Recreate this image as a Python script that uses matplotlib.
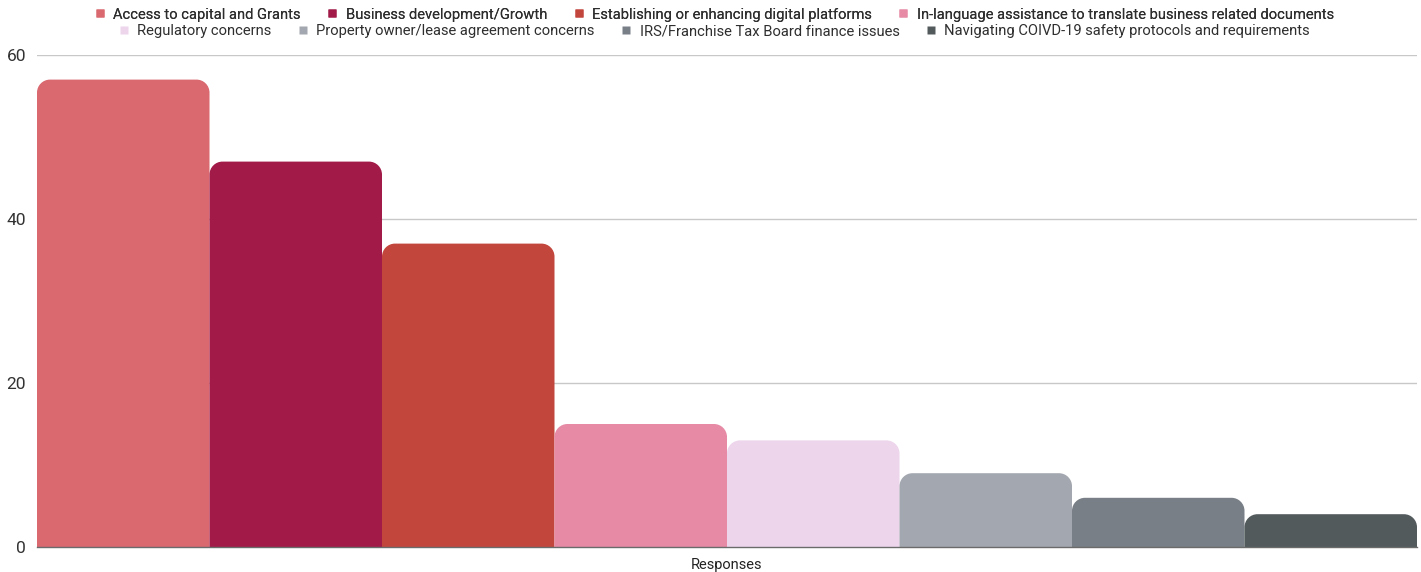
import matplotlib
matplotlib.use("Agg")
import matplotlib.pyplot as plt
from matplotlib.path import Path
from matplotlib.patches import PathPatch
from matplotlib.lines import Line2D

categories = [
    "Access to capital and Grants",
    "Business development/Growth",
    "Establishing or enhancing digital platforms",
    "In-language assistance to translate business related documents",
    "Regulatory concerns",
    "Property owner/lease agreement concerns",
    "IRS/Franchise Tax Board finance issues",
    "Navigating COIVD-19 safety protocols and requirements",
]
values = [57, 47, 37, 15, 13, 9, 6, 4]
colors = ["#d9686f", "#a21a47", "#c3463c", "#e68aa5",
          "#edd5ec", "#a3a7af", "#797f86", "#525a5c"]
yticks = [0, 20, 40, 60]
xlabel = "Responses"

W, H = 1421, 572
fig = plt.figure(figsize=(W / 100, H / 100), dpi=100)
ax = fig.add_axes([37 / W, 25 / H, 1380 / W, 492 / H])
n = len(values)
ax.set_xlim(0, n)
ax.set_ylim(0, 60)

px_x = 1380 / n
px_y = 492 / 60
r_px = 13
rx = r_px / px_x
ry = r_px / px_y
k = 0.5523


def rounded_bar(x0, w, h):
    x1 = x0 + w
    r_y = min(ry, h)
    verts = [
        (x0, 0), (x0, h - r_y),
        (x0, h - r_y + k * r_y), (x0 + rx - k * rx, h), (x0 + rx, h),
        (x1 - rx, h),
        (x1 - rx + k * rx, h), (x1, h - r_y + k * r_y), (x1, h - r_y),
        (x1, 0), (x0, 0),
    ]
    codes = [Path.MOVETO, Path.LINETO,
             Path.CURVE4, Path.CURVE4, Path.CURVE4,
             Path.LINETO,
             Path.CURVE4, Path.CURVE4, Path.CURVE4,
             Path.LINETO, Path.CLOSEPOLY]
    return Path(verts, codes)


for i, (v, c) in enumerate(zip(values, colors)):
    ax.add_patch(PathPatch(rounded_bar(i, 1, v), facecolor=c, edgecolor="none", zorder=2))

for s in ["top", "right", "left"]:
    ax.spines[s].set_visible(False)
ax.spines["bottom"].set_color("#6b6b6b")
ax.spines["bottom"].set_linewidth(1)
ax.spines["bottom"].set_zorder(3)
ax.set_yticks(yticks)
ax.set_yticklabels([str(t) for t in yticks], fontsize=12.5, color="#333333", family="Roboto")
ax.tick_params(axis="y", length=0, pad=8)
ax.grid(axis="y", color="#c8c8c8", linewidth=1, zorder=0)
ax.set_axisbelow(True)
ax.set_xticks([n / 2])
ax.set_xticklabels([xlabel], fontsize=10.5, color="#222222", family="Roboto")
ax.tick_params(axis="x", length=0, pad=8)


def make_legend(idx, y):
    handles = [Line2D([], [], marker="s", linestyle="none", markersize=6,
                      markerfacecolor=colors[i], markeredgecolor="none") for i in idx]
    leg = fig.legend(handles, [categories[i] for i in idx], loc="center",
                     bbox_to_anchor=(714 / W, 1 - y / H), ncol=len(idx), frameon=False,
                     prop={"family": "Roboto", "size": 10.65}, handlelength=0.8,
                     handletextpad=0.5, columnspacing=1.73, borderaxespad=0, borderpad=0)
    for t in leg.get_texts():
        t.set_color("#2e2e2e")
    return leg


l1 = make_legend([0, 1, 2, 3], 14.5)
fig.add_artist(l1)
make_legend([4, 5, 6, 7], 31.5)

fig.savefig("out.png", dpi=100)
